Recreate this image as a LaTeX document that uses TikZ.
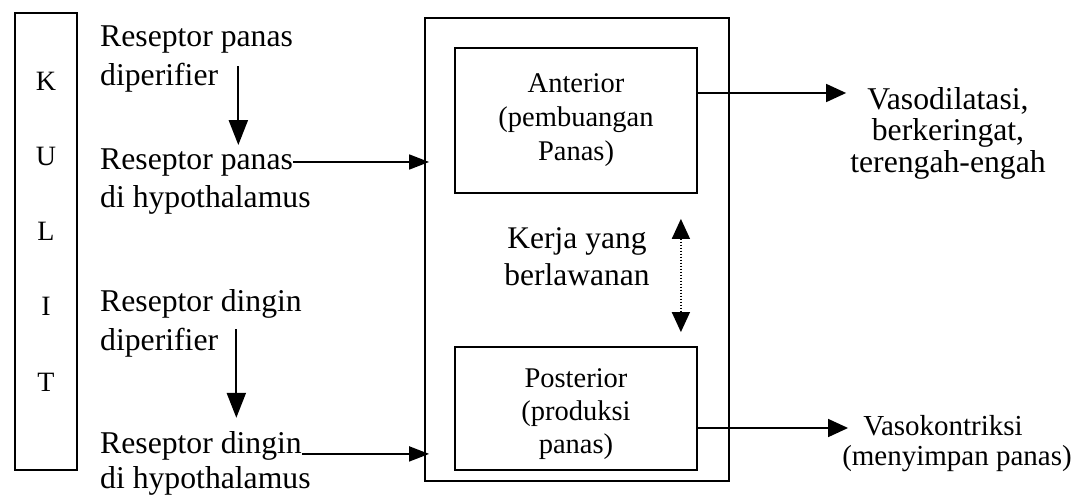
\documentclass[tikz,border=0pt]{standalone}
\usepackage{fontspec}
\setmainfont{Liberation Serif}
\usetikzlibrary{arrows.meta,calc}
\begin{document}
\begin{tikzpicture}[x=1pt,y=-1pt,
  txt/.style={inner sep=0pt,font=\fontsize{31.7}{38}\selectfont},
  sml/.style={inner sep=0pt,font=\fontsize{29}{34}\selectfont},
  boxed/.style={draw,line width=1.8pt,inner sep=0pt},
  inarr/.style={line width=1.7pt,-{Triangle[length=20pt,width=15pt]}},
  outarr/.style={line width=1.7pt,-{Triangle[length=20pt,width=18pt]}},
  downarr/.style={line width=2.2pt,-{Triangle[length=25pt,width=19pt]}},
  opp/.style={line width=1.6pt,dash pattern=on 1.5pt off 1.5pt,{Triangle[length=20pt,width=18pt]}-{Triangle[length=20pt,width=18pt]}},
]
\useasboundingbox (0,0) rectangle (1091,497);

% KULIT column
\node[boxed,minimum width=62pt,minimum height=457pt] (kulit) at (46,241.5) {};
\node[inner sep=0pt,font=\fontsize{28}{75.25}\selectfont,align=center,anchor=north] (kulittxt) at (46,71.5) {K\\U\\L\\I\\T};

% hypothalamus
\node[boxed,minimum width=304pt,minimum height=463pt] (hypo) at (577,249.5) {};
\node[boxed,minimum width=242pt,minimum height=145pt,align=center,font=\fontsize{28.5}{34}\selectfont] (ant) at (576,120.5) {Anterior\\(pembuangan\\Panas)};
\node[boxed,minimum width=242pt,minimum height=123pt,align=center,font=\fontsize{28.5}{33}\selectfont] (post) at (576,408.5) {\rule{0pt}{30pt}Posterior\\(produksi\\panas)};
\node[txt,align=center,anchor=north,font=\fontsize{31.5}{37}\selectfont] (kerja) at (577,227) {Kerja yang\\berlawanan};

% left texts
\node[txt,anchor=base west] (A1) at (100,47) {Reseptor panas};
\node[txt,anchor=base west] (A2) at (100,86) {diperifier};
\node[txt,anchor=base west] (B1) at (100,169) {Reseptor panas};
\node[txt,anchor=base west] (B2) at (100,207) {di hypothalamus};
\node[txt,anchor=base west] (C1) at (100,311) {Reseptor dingin};
\node[txt,anchor=base west] (C2) at (100,350) {diperifier};
\node[txt,anchor=base west] (D1) at (100,453) {Reseptor dingin};
\node[txt,anchor=base west] (D2) at (100,488) {di hypothalamus};

% right texts
\node[txt,align=center,anchor=north,font=\fontsize{31.7}{31.5}\selectfont] (vaso) at (948,87) {Vasodilatasi,\\berkeringat,\\terengah-engah};
\node[sml,anchor=base] (vk1) at (943,435) {Vasokontriksi};
\node[sml,anchor=base] (vk2) at (957,465) {(menyimpan panas)};

% down arrows
\coordinate (d1s) at ($(A2.north east)+(20,3)$);
\coordinate (d1e) at (d1s |- B1.north);
\draw[downarr] (d1s) -- ([yshift=3pt]d1e);
\coordinate (d2s) at ($(C2.north east)+(18,2)$);
\coordinate (d2e) at (d2s |- D1.north);
\draw[downarr] (d2s) -- ([yshift=13pt]d2e);

% inputs
\coordinate (i1) at (B1.east -| hypo.west);
\draw[inarr] (B1.east) -- ([xshift=5pt]i1);
\coordinate (i2s) at ([yshift=-8.5pt]D1.east);
\coordinate (i2) at (i2s -| hypo.west);
\draw[inarr] (i2s) -- ([xshift=5pt]i2);

% outputs
\coordinate (o1s) at ([yshift=27.5pt]ant.east);
\coordinate (o1) at (o1s -| vaso.west);
\draw[outarr] (o1s) -- ([xshift=-4pt]o1);
\coordinate (o2s) at ([yshift=-19.5pt]post.east);
\coordinate (o2) at (o2s -| vk1.west);
\draw[outarr] (o2s) -- ([xshift=-15pt]o2);

% opposing action
\draw[opp] ($(ant.south east)+(-17,25)$) -- ($(post.north east)+(-17,-14)$);
\end{tikzpicture}
\end{document}
